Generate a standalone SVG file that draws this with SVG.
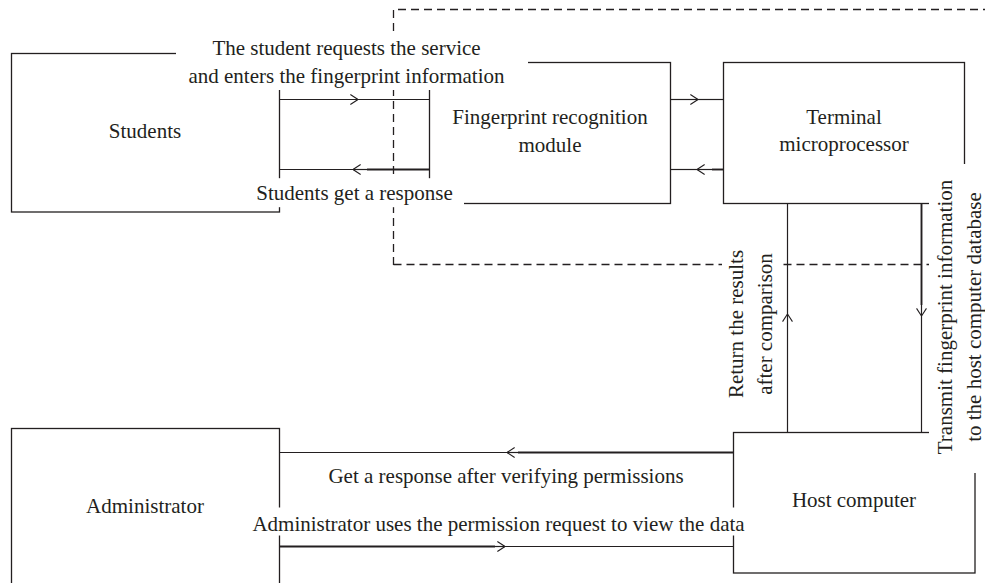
<svg xmlns="http://www.w3.org/2000/svg" width="985" height="583" viewBox="0 0 985 583">
<defs>
<style>
.box{fill:none;stroke:#231f20;stroke-width:1.3}
.ln{fill:none;stroke:#231f20;stroke-width:1.2}
.thk{fill:none;stroke:#231f20;stroke-width:1.9}
.dash{fill:none;stroke:#231f20;stroke-width:1.3;stroke-dasharray:8 5}
.bg{fill:#ffffff;stroke:none}
text{font-family:"Liberation Serif","Times New Roman",serif;font-size:21px;fill:#231f20;text-anchor:middle}
</style>
<marker id="chev" viewBox="0 0 10 12" refX="9.5" refY="6" markerWidth="9" markerHeight="11" orient="auto" markerUnits="userSpaceOnUse">
<path d="M1,0.5 L9.5,6 L1,11.5" fill="none" stroke="#231f20" stroke-width="1.2"/>
</marker>
</defs>
<rect width="985" height="583" fill="#ffffff"/>

<g id="boundary">
<path class="dash" d="M393.5,265 V9.5 H990 M393.5,264.5 H990"/>
</g>

<g id="students">
<rect class="box" x="11.5" y="53.5" width="268" height="158.5"/>
<text x="145" y="138">Students</text>
</g>

<g id="fingerprint-module">
<rect class="box" x="429.5" y="62.5" width="241" height="141"/>
<text x="550" y="124">Fingerprint recognition</text>
<text x="550" y="152">module</text>
</g>

<g id="terminal">
<rect class="box" x="723.5" y="62.5" width="241" height="141"/>
<text x="844" y="124">Terminal</text>
<text x="844" y="151">microprocessor</text>
</g>

<g id="host">
<rect class="box" x="733.5" y="432.5" width="241.5" height="140.5"/>
<text x="854" y="507">Host computer</text>
</g>

<g id="administrator">
<rect class="box" x="11.5" y="428.5" width="268" height="200"/>
<text x="145" y="513">Administrator</text>
</g>

<g id="connectors">
<path class="ln" d="M279.5,99.5 H358" marker-end="url(#chev)"/>
<path class="ln" d="M358,99.5 H429.5"/>
<path class="thk" d="M429.5,169.5 H367"/>
<path class="ln" d="M367,169.5 H353" marker-end="url(#chev)"/>
<path class="ln" d="M353,169.5 H279.5"/>
<path class="ln" d="M670.5,99.5 H698" marker-end="url(#chev)"/>
<path class="ln" d="M698,99.5 H723.5"/>
<path class="thk" d="M723.5,169.5 H712"/>
<path class="ln" d="M712,169.5 H697" marker-end="url(#chev)"/>
<path class="ln" d="M697,169.5 H670.5"/>
<path class="thk" d="M921.5,203.5 V305"/>
<path class="ln" d="M921.5,305 V316" marker-end="url(#chev)"/>
<path class="ln" d="M921.5,316 V432.5"/>
<path class="ln" d="M787.5,432.5 V314" marker-end="url(#chev)"/>
<path class="ln" d="M787.5,314 V203.5"/>
<path class="thk" d="M733.5,452.5 H518"/>
<path class="ln" d="M518,452.5 H507" marker-end="url(#chev)"/>
<path class="ln" d="M507,452.5 H279.5"/>
<path class="thk" d="M279.5,546.5 H495"/>
<path class="ln" d="M495,546.5 H505" marker-end="url(#chev)"/>
<path class="ln" d="M505,546.5 H733.5"/>
</g>

<g id="labels">
<rect class="bg" x="176" y="32" width="352" height="58"/>
<text x="346.5" y="55">The student requests the service</text>
<text x="346.5" y="83">and enters the fingerprint information</text>
<rect class="bg" x="250" y="178.2" width="214" height="29"/>
<text x="354.5" y="200">Students get a response</text>
<rect class="bg" x="722" y="245" width="60" height="155"/>
<text transform="translate(743,324) rotate(-90)">Return the results</text>
<text transform="translate(772,324) rotate(-90)">after comparison</text>
<rect class="bg" x="929" y="164" width="56" height="309"/>
<text transform="translate(952,317) rotate(-90)">Transmit fingerprint information</text>
<text transform="translate(981,317) rotate(-90)">to the host computer database</text>
<text x="506" y="483">Get a response after verifying permissions</text>
<rect class="bg" x="240" y="507.5" width="518" height="28"/>
<text x="498.5" y="531">Administrator uses the permission request to view the data</text>
</g>
</svg>
